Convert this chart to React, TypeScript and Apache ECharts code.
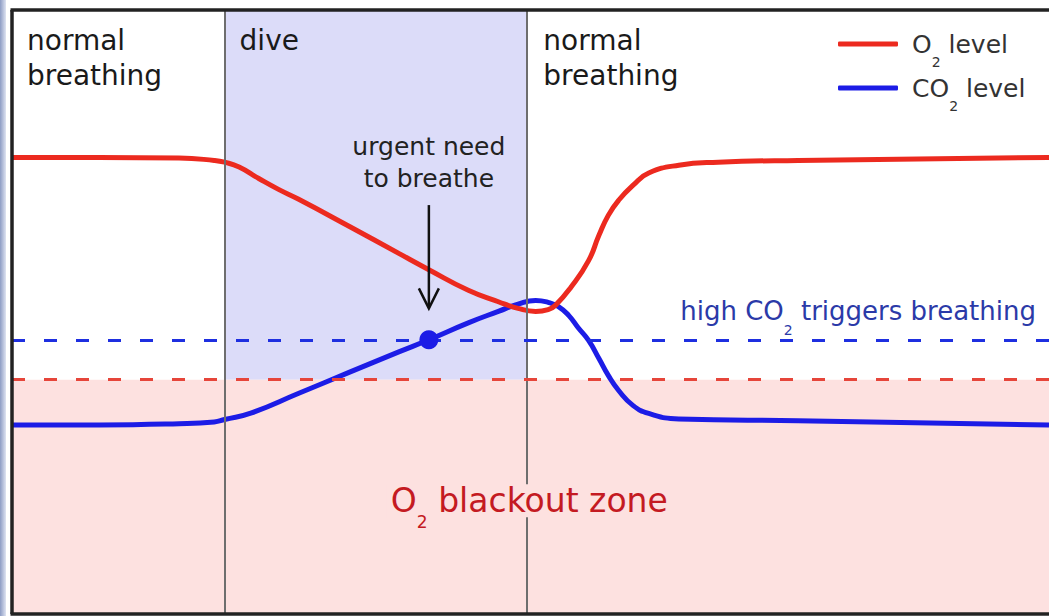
import React, { useEffect, useRef } from "react";
import * as echarts from "echarts";

// ---- data (time in % of the recording, level in % of the plot height) ----
const TIME_O2 = [0, 8.4, 16.1, 19.5, 20.5, 21.9, 23.8, 25.7, 27.6, 32.5, 37.3, 40.2, 44.0, 46.9, 48.8, 50.5, 51.7, 52.4, 53.9, 55.6, 56.6, 57.5, 58.5, 59.9, 61.4, 64.3, 68.1, 75.8, 100];
const O2_LEVEL = [75.6, 75.6, 75.5, 75.1, 74.8, 74.0, 72.1, 70.3, 68.7, 64.2, 59.7, 57.0, 53.6, 51.7, 50.6, 50.1, 50.4, 51.1, 54.1, 58.5, 62.7, 66.0, 68.5, 71.0, 73.0, 74.3, 74.8, 75.1, 75.6];

const TIME_CO2 = [0, 8.4, 16.1, 19.5, 20.5, 23.1, 27.6, 32.5, 37.3, 40.2, 44.0, 46.9, 48.8, 50.5, 51.7, 52.7, 53.7, 54.6, 55.6, 56.6, 57.5, 58.5, 59.9, 61.4, 64.3, 75.8, 100];
const CO2_LEVEL = [31.3, 31.3, 31.5, 31.8, 32.2, 33.3, 36.5, 40.0, 43.4, 45.4, 48.2, 50.1, 51.3, 51.9, 51.6, 50.9, 49.4, 47.4, 45.3, 42.3, 39.5, 37.0, 34.5, 33.2, 32.3, 32.0, 31.3];

const PHASE_EDGES = [0, 20.5, 49.6, 100];
const PHASE_NAMES = ["normal\nbreathing", "dive", "normal\nbreathing"];
const CO2_TRIGGER = 45.4;
const O2_BLACKOUT = 38.8;
const URGENT_TIME = 40.2;
const ARROW_FROM = 67.7;
const ARROW_TO = 50.6;

const FONT = "'DejaVu Sans', 'Liberation Sans', sans-serif";
const RED = "#ec2a1f";
const BLUE = "#1c1ce6";

export default function App() {
  const ref = useRef<HTMLDivElement>(null);

  useEffect(() => {
    const chart = echarts.init(ref.current!, null, { renderer: "svg" });
    const o2Data = TIME_O2.map((t, i) => [t, O2_LEVEL[i]]);
    const co2Data = TIME_CO2.map((t, i) => [t, CO2_LEVEL[i]]);

    const option: any = {
      animation: false,
      grid: { left: 12, right: -2, top: 10, bottom: 2 },
      xAxis: { type: "value", min: 0, max: 100, show: false },
      yAxis: { type: "value", min: 0, max: 100, show: false },
      legend: {
        data: ["O2 level", "CO2 level"],
        orient: "vertical",
        left: 833,
        top: 14,
        icon: "roundRect",
        itemWidth: 60,
        itemHeight: 5,
        itemGap: -6,
        formatter: (n: string) => (n === "O2 level" ? "O{s|2} level" : "CO{s|2} level"),
        textStyle: {
          fontFamily: FONT,
          fontSize: 25,
          lineHeight: 25,
          color: "#333",
          padding: [0, 0, 0, 9],
          rich: {
            s: { fontFamily: FONT, fontSize: 14, lineHeight: 14, color: "#333", padding: [36, 0, 0, 0] },
          },
        },
      },
      series: [
        {
          name: "zones",
          type: "line",
          data: [],
          z: 1,
          silent: true,
          markArea: {
            silent: true,
            data: [
              [
                { xAxis: PHASE_EDGES[1], yAxis: O2_BLACKOUT, itemStyle: { color: "#dcdcf9" } },
                { xAxis: PHASE_EDGES[2], yAxis: 100 },
              ],
              [
                { xAxis: PHASE_EDGES[0], yAxis: 0, itemStyle: { color: "#fde1e0" } },
                { xAxis: PHASE_EDGES[3], yAxis: O2_BLACKOUT },
              ],
            ],
          },
          markLine: {
            silent: true,
            symbol: "none",
            label: { show: false },
            data: [
              { xAxis: PHASE_EDGES[1], lineStyle: { color: "#6e6e6e", width: 2, type: "solid" } },
              { xAxis: PHASE_EDGES[2], lineStyle: { color: "#6e6e6e", width: 2, type: "solid" } },
              { yAxis: CO2_TRIGGER, lineStyle: { color: "#1e2fe0", width: 3, type: [13, 19] } },
              { yAxis: O2_BLACKOUT, lineStyle: { color: "#e6453a", width: 3, type: [13, 19] } },
            ],
          },
        },
        {
          name: "CO2 level",
          type: "line",
          data: co2Data,
          smooth: 0.5,
          symbol: "none",
          z: 3,
          color: BLUE,
          lineStyle: { color: BLUE, width: 5 },
        },
        {
          name: "O2 level",
          type: "line",
          data: o2Data,
          smooth: 0.5,
          symbol: "none",
          z: 4,
          color: RED,
          lineStyle: { color: RED, width: 5 },
        },
        {
          name: "urgent",
          type: "scatter",
          data: [[URGENT_TIME, CO2_TRIGGER]],
          symbolSize: 19,
          z: 5,
          itemStyle: { color: BLUE, opacity: 1 },
        },
        {
          name: "arrow",
          type: "custom",
          z: 6,
          data: [[URGENT_TIME, ARROW_FROM, ARROW_TO]],
          encode: { x: 0, y: [1, 2] },
          renderItem: (_p: any, api: any) => {
            const top = api.coord([api.value(0), api.value(1)]);
            const tip = api.coord([api.value(0), api.value(2)]);
            return {
              type: "group",
              children: [
                { type: "line", shape: { x1: top[0], y1: top[1], x2: tip[0], y2: tip[1] - 1 }, style: { stroke: "#111", lineWidth: 2.5 } },
                {
                  type: "polyline",
                  shape: { points: [[tip[0] - 10, tip[1] - 20], [tip[0], tip[1]], [tip[0] + 10, tip[1] - 20]] },
                  style: { stroke: "#111", lineWidth: 2.5, fill: null },
                },
              ],
            };
          },
        },
      ],
    };
    chart.setOption(option);

    const px = (x: number, y: number) => chart.convertToPixel({ gridIndex: 0 }, [x, y]) as number[];
    const [gx0, gy0] = px(0, 100);
    const [gx1, gy1] = px(100, 0);
    const trigY = px(0, CO2_TRIGGER)[1];
    const blackY = px(0, O2_BLACKOUT)[1];
    const arrowTop = px(URGENT_TIME, ARROW_FROM);

    const graphics: any[] = [];
    PHASE_NAMES.forEach((name, i) => {
      graphics.push({
        type: "text",
        z: 50,
        style: {
          text: name,
          x: px(PHASE_EDGES[i], 0)[0] + (i === 2 ? 17 : 15),
          y: gy0 + 13,
          fontFamily: FONT,
          fontSize: 28,
          lineHeight: 35,
          fill: "#1a1a1a",
          align: "left",
          verticalAlign: "top",
        },
      });
    });
    graphics.push({
      type: "text",
      z: 50,
      style: {
        text: "urgent need\nto breathe",
        x: arrowTop[0],
        y: arrowTop[1] - 11,
        fontFamily: FONT,
        fontSize: 25,
        lineHeight: 32,
        fill: "#222",
        align: "center",
        verticalAlign: "bottom",
      },
    });
    graphics.push({
      type: "text",
      z: 50,
      style: {
        text: "{m|high CO}{s|2}{m| triggers breathing}",
        x: gx1 - 13,
        y: trigY - 29,
        align: "right",
        verticalAlign: "middle",
        rich: {
          m: { fontFamily: FONT, fontSize: 26, lineHeight: 26, fill: "#2b3aa8", color: "#2b3aa8" },
          s: { fontFamily: FONT, fontSize: 14, lineHeight: 14, fill: "#2b3aa8", color: "#2b3aa8", padding: [38, 0, 0, 0] },
        },
      },
    });
    graphics.push({
      type: "text",
      z: 50,
      style: {
        text: "{m|O}{s|2}{m| blackout zone}",
        x: px(PHASE_EDGES[2], 0)[0] + 3,
        y: (blackY + gy1) / 2 + 4,
        align: "center",
        verticalAlign: "middle",
        backgroundColor: "#fde1e0",
        padding: [0, 4],
        rich: {
          m: { fontFamily: FONT, fontSize: 33, lineHeight: 33, fill: "#c41a22", color: "#c41a22" },
          s: { fontFamily: FONT, fontSize: 17, lineHeight: 17, fill: "#c41a22", color: "#c41a22", padding: [42, 0, 0, 0] },
        },
      },
    });
    // frame
    const frame = { stroke: "#222", lineWidth: 3.5 };
    graphics.push({ type: "line", z: 60, shape: { x1: gx0 - 1.5, y1: gy0, x2: 1049, y2: gy0 }, style: frame });
    graphics.push({ type: "line", z: 60, shape: { x1: gx0, y1: gy0, x2: gx0, y2: gy1 }, style: frame });
    graphics.push({ type: "line", z: 60, shape: { x1: gx0 - 1.5, y1: gy1, x2: 1049, y2: gy1 }, style: frame });
    graphics.push({
      type: "rect",
      z: 60,
      shape: { x: 0, y: 0, width: 6, height: 616 },
      style: {
        fill: new echarts.graphic.LinearGradient(0, 0, 1, 0, [
          { offset: 0, color: "#8d9cc4" },
          { offset: 1, color: "#dfe4f2" },
        ]),
      },
    });
    chart.setOption({ graphic: graphics });

    return () => chart.dispose();
  }, []);

  return (
    <div
      ref={ref}
      style={{ position: "fixed", left: 0, top: 0, width: 1049, height: 616, background: "#fff" }}
    />
  );
}
